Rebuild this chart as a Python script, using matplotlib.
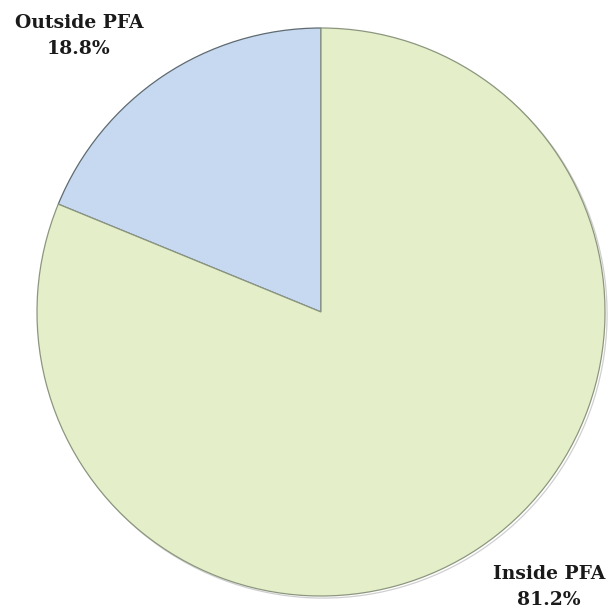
import matplotlib.pyplot as plt
import matplotlib.patheffects as pe

labels = ["Outside PFA", "Inside PFA"]
shares = [18.8, 81.2]
colors = ["#c6d9f1", "#e4efc9"]

fig = plt.figure(figsize=(6.13, 6.16), dpi=100)
ax = fig.add_axes([0, 0, 1, 1])

wedges, _ = ax.pie(shares, colors=colors, startangle=90, counterclock=True,
                   center=(321, 304), radius=284, frame=True,
                   wedgeprops=dict(edgecolor="#8c967f", linewidth=0.9))
for w in wedges:
    w.set_path_effects([pe.SimpleLineShadow(offset=(1.5, -1.5), shadow_color="#888888", alpha=0.4),
                        pe.Normal()])
# the blue slice's straight edges are drawn darker
wedges[0].set_edgecolor("#5f6a70")

ax.set_xlim(0, 613)
ax.set_ylim(0, 616)
ax.set_aspect("equal")
ax.axis("off")

font = dict(family="DejaVu Serif", fontweight="bold", fontsize=13.5, color="#1a1a1a",
            ha="center", va="center", linespacing=1.6)
ax.text(79, 580, f"{labels[0]}\n{shares[0]:.1f}%", **font)
ax.text(549, 29, f"{labels[1]}\n{shares[1]:.1f}%", **font)

fig.savefig("out.png", dpi=100)
